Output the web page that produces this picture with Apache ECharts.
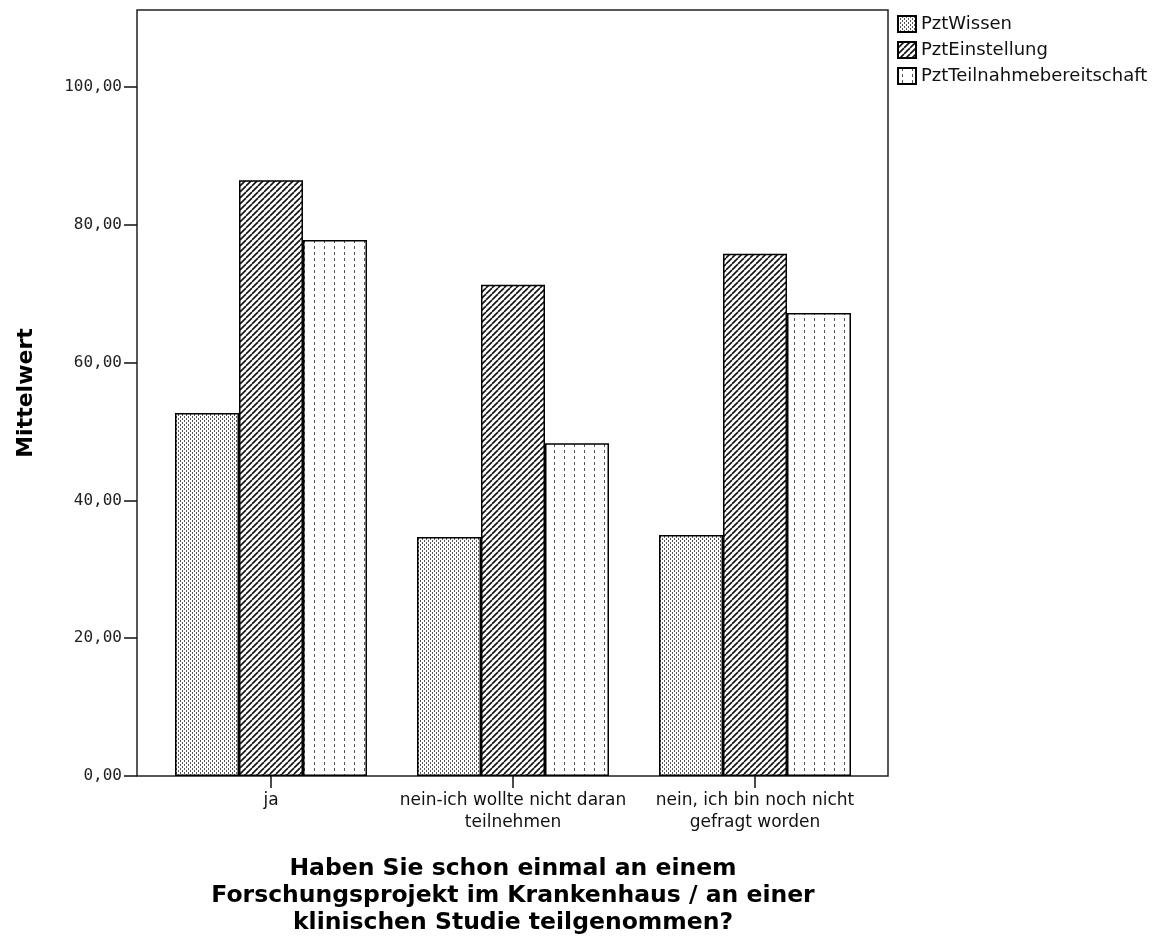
<!DOCTYPE html>
<html>
<head>
<meta charset="utf-8">
<script src="https://cdn.jsdelivr.net/npm/echarts@6/dist/echarts.min.js"></script>
<style>html,body{margin:0;padding:0;background:#fff;}#chart{width:1159px;height:938px;}</style>
</head>
<body>
<div id="chart"></div>
<script>
// ---- data ----
const categories = ['ja', 'nein-ich wollte nicht daran\nteilnehmen', 'nein, ich bin noch nicht\ngefragt worden'];
const seriesNames = ['PztWissen', 'PztEinstellung', 'PztTeilnahmebereitschaft'];
const wissen = [52.7, 34.7, 35.0];
const einstellung = [86.5, 71.3, 75.8];
const teilnahme = [77.8, 48.3, 67.2];
const yTicks = [0, 20, 40, 60, 80, 100];

// ---- patterns ----
function patWissen() {
  const c = document.createElement('canvas'); c.width = 4; c.height = 4;
  const g = c.getContext('2d');
  g.fillStyle = '#fff'; g.fillRect(0, 0, 4, 4);
  g.fillStyle = '#555';
  g.fillRect(0, 0, 1, 2); g.fillRect(2, 2, 1, 2);
  return { image: c, repeat: 'repeat' };
}
function patEinst() {
  const c = document.createElement('canvas'); c.width = 6; c.height = 6;
  const g = c.getContext('2d');
  g.fillStyle = '#fff'; g.fillRect(0, 0, 6, 6);
  g.strokeStyle = '#111'; g.lineWidth = 1.6;
  [-6, 0, 6].forEach(x0 => { g.beginPath(); g.moveTo(x0, 6); g.lineTo(x0 + 6, 0); g.stroke(); });
  return { image: c, repeat: 'repeat' };
}
function patTeil() {
  const c = document.createElement('canvas'); c.width = 10; c.height = 6;
  const g = c.getContext('2d');
  g.fillStyle = '#fff'; g.fillRect(0, 0, 10, 6);
  g.fillStyle = '#555';
  g.fillRect(4, 0, 1, 3);
  return { image: c, repeat: 'repeat' };
}
const patterns = [patWissen(), patEinst(), patTeil()];
const values = [wissen, einstellung, teilnahme];

const chart = echarts.init(document.getElementById('chart'), null, { renderer: 'canvas' });
const smallFont = 'DejaVu Sans';
const option = {
  animation: false,
  backgroundColor: '#fff',
  grid: { left: 150, right: 283, top: 10, bottom: 162, containLabel: false, outerBoundsMode: 'none' },
  legend: {
    orient: 'vertical', left: 892, top: 10, itemWidth: 18, itemHeight: 16, itemGap: 8,
    icon: 'rect',
    textStyle: { fontFamily: smallFont, fontSize: 18, color: '#111' },
    data: seriesNames
  },
  xAxis: {
    type: 'category', data: categories,
    axisLine: { show: false },
    axisTick: { show: true, alignWithLabel: true, length: 12, lineStyle: { color: '#111', width: 1.5 } },
    axisLabel: { interval: 0, hideOverlap: false, margin: 14, fontFamily: smallFont, fontSize: 17, lineHeight: 22, color: '#111' },
    name: 'Haben Sie schon einmal an einem\nForschungsprojekt im Krankenhaus / an einer\nklinischen Studie teilgenommen?',
    nameLocation: 'middle', nameGap: 79,
    nameTextStyle: { fontFamily: 'DejaVu Sans', fontWeight: 'bold', fontSize: 23.5, lineHeight: 27, color: '#000' }
  },
  yAxis: {
    type: 'value', min: 0, max: 111.2, offset: 13,
    axisLine: { show: false },
    splitLine: { show: false },
    axisTick: { show: true, length: 13, customValues: yTicks, lineStyle: { color: '#111', width: 1.5 } },
    axisLabel: { margin: 15, customValues: yTicks, fontFamily: 'DejaVu Sans Mono', fontSize: 16, color: '#222',
      formatter: v => v.toFixed(2).replace('.', ',') },
    name: 'Mittelwert', nameLocation: 'middle', nameGap: 100,
    nameTextStyle: { fontFamily: 'DejaVu Sans', fontWeight: 'bold', fontSize: 22, color: '#000' }
  },
  graphic: [{
    type: 'rect', silent: true, z: 0,
    shape: { x: 137, y: 10, width: 751, height: 766 },
    style: { fill: 'none', stroke: '#222', lineWidth: 1.5 }
  }],
  series: seriesNames.map((n, i) => ({
    name: n, type: 'bar', data: values[i], barWidth: 64, barGap: '0%',
    itemStyle: { color: patterns[i], borderColor: '#000', borderWidth: 1.5 },
    emphasis: { disabled: true }, z: 2
  }))
};
chart.setOption(option);
</script>
</body>
</html>
